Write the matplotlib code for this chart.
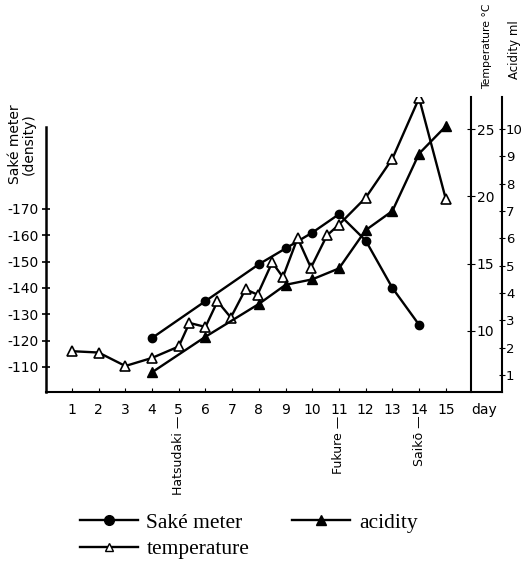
import matplotlib.pyplot as plt
from matplotlib.lines import Line2D

plt.rcParams['axes.unicode_minus'] = False
plt.rcParams['font.family'] = ['DejaVu Sans']

# Saké meter (density), plotted as negative values
sake_days = [4, 6, 8, 9, 10, 11, 12, 13, 14]
sake_vals = [-121, -135, -149, -155, -161, -168, -158, -140, -126]

# temperature, deg C
temp_days = [1, 2, 3, 4, 5, 5.4, 6, 6.45, 6.95, 7.5, 7.95, 8.5, 8.9, 9.45, 9.95, 10.55, 11, 12, 13, 14, 15]
temp_vals = [8.5, 8.4, 7.4, 8.0, 8.85, 10.6, 10.3, 12.2, 11.0, 13.1, 12.7, 15.1, 14.0, 16.9, 14.7, 17.1, 17.9, 19.9, 22.8, 27.3, 19.8]

# acidity, ml
acid_days = [4, 6, 8, 9, 10, 11, 12, 13, 14, 15]
acid_vals = [1.1, 2.4, 3.6, 4.3, 4.5, 4.9, 6.3, 7.0, 9.1, 10.1]

days = list(range(1, 16))
sake_ticks = [-110, -120, -130, -140, -150, -160, -170]
temp_ticks = [10, 15, 20, 25]
acid_ticks = list(range(1, 11))

fig = plt.figure(figsize=(5.24, 5.64), dpi=100)
ax = fig.add_axes([0.0878, 0.305, 0.870, 0.523])
ax_t = ax.twinx()
ax_a = ax.twinx()

lw = 1.7
ax.plot(sake_days, sake_vals, color='black', lw=lw, marker='o', ms=6)
ax_t.plot(temp_days, temp_vals, color='black', lw=lw, marker='^', ms=7,
          mfc='white', mec='black', mew=1.2)
ax_a.plot(acid_days, acid_vals, color='black', lw=lw, marker='^', ms=7)

ax.set_xlim(0.03, 17.1)
ax.set_ylim(-100.5, -212.5)
ax_t.set_ylim(5.47, 27.38)
ax_a.set_ylim(0.38, 11.17)

# left axis
ax.set_yticks(sake_ticks)
ax.set_yticklabels([str(v) for v in sake_ticks], fontsize=10)
ax.spines['left'].set_bounds(-100.5, -201)
ax.spines['left'].set_linewidth(1.8)
ax.spines['bottom'].set_linewidth(1.5)
ax.spines['top'].set_visible(False)
ax.spines['right'].set_visible(False)
ax.tick_params(axis='y', direction='inout', length=6, width=1.2, pad=2)
ax.set_xticks(days)
ax.set_xticklabels([str(d) for d in days], fontsize=10)
ax.tick_params(axis='x', direction='in', length=3, pad=8)

# temperature axis
ax_t.spines['right'].set_position(('axes', 0.933))
for s in ['left', 'top', 'bottom']:
    ax_t.spines[s].set_visible(False)
ax_t.spines['right'].set_linewidth(1.5)
ax_t.set_yticks(temp_ticks)
ax_t.set_yticklabels([str(v) for v in temp_ticks], fontsize=10)
ax_t.tick_params(axis='y', direction='inout', length=6, pad=1)

# acidity axis
for s in ['left', 'top', 'bottom']:
    ax_a.spines[s].set_visible(False)
ax_a.spines['right'].set_linewidth(1.5)
ax_a.set_yticks(acid_ticks)
ax_a.set_yticklabels([str(v) for v in acid_ticks], fontsize=9.5)
ax_a.tick_params(axis='y', direction='inout', length=4, pad=1)

# axis titles
fig.text(0.042, 0.745, 'Saké meter\n(density)', rotation=90, ha='center', va='center',
         fontsize=10, linespacing=1.0)
fig.text(0.929, 0.918, 'Temperature °C', rotation=90, ha='center', va='center', fontsize=7.8)
fig.text(0.982, 0.912, 'Acidity ml', rotation=90, ha='center', va='center', fontsize=8.5)
ax.annotate('day', xy=(15.95, 0), xycoords=('data', 'axes fraction'),
            xytext=(0, -8), textcoords='offset points', ha='left', va='top', fontsize=10)

# stage markers under the x axis
for d, txt in [(5, 'Hatsudaki —'), (11, 'Fukure —'), (14, 'Saikō —')]:
    ax.annotate(txt, xy=(d, 0), xycoords=('data', 'axes fraction'),
                xytext=(0, -17), textcoords='offset points',
                rotation=90, ha='center', va='top', fontsize=9)

# legend
handles = [
    Line2D([], [], color='black', lw=lw, marker='o', ms=7),
    Line2D([], [], color='black', lw=lw, marker='^', ms=6, mfc='white', mec='black'),
    Line2D([], [], color='black', lw=lw, marker='^', ms=7),
]
labels = ['Saké meter', 'temperature', 'acidity']
fig.legend(handles, labels, loc='lower left', bbox_to_anchor=(0.115, -0.026), ncol=2,
           frameon=False, prop={'family': 'Liberation Serif', 'size': 15.5},
           handlelength=2.7, handletextpad=0.4, columnspacing=2.0, labelspacing=0.3)

fig.savefig('out.png', dpi=100)
